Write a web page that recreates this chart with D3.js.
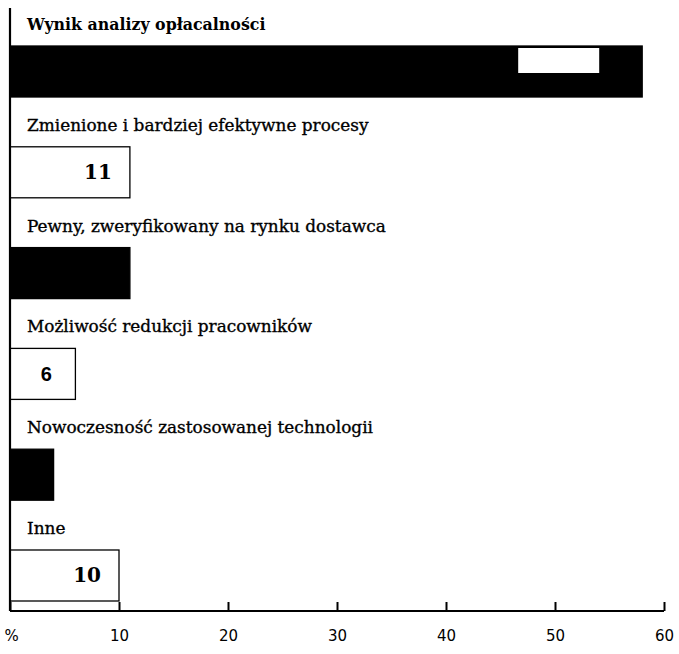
<!DOCTYPE html>
<html>
<head>
<meta charset="utf-8">
<script src="https://cdn.jsdelivr.net/npm/d3@7"></script>
<style>
  html, body { margin: 0; padding: 0; background: #fff; }
  svg { display: block; }
</style>
</head>
<body>
<svg id="chart" width="679" height="654"></svg>
<script>
// Reasons given for the investment decision, share of answers in %
const categories = [
  "Wynik analizy opłacalności",
  "Zmienione i bardziej efektywne procesy",
  "Pewny, zweryfikowany na rynku dostawca",
  "Możliwość redukcji pracowników",
  "Nowoczesność zastosowanej technologii",
  "Inne"
];
const values = [58, 11, 11, 6, 4, 10];
const fills = ["black", "white", "black", "white", "black", "white"];
const tickValues = [0, 10, 20, 30, 40, 50, 60];
const tickLabels = ["%", "10", "20", "30", "40", "50", "60"];

const svg = d3.select("#chart");
const serif = "'DejaVu Serif', 'Liberation Serif', serif";

const x = d3.scaleLinear().domain([0, 60]).range([10, 664]);
const y = d3.scaleBand().domain(categories).range([46, 601]).paddingInner(0.494).paddingOuter(0);
const baseY = 611;

const rows = categories.map((c, i) => ({ cat: c, value: values[i], fill: fills[i] }));

// bars
svg.append("g").selectAll("rect").data(rows).join("rect")
  .attr("x", x(0))
  .attr("y", d => y(d.cat))
  .attr("width", d => x(d.value) - x(0))
  .attr("height", y.bandwidth())
  .attr("fill", d => d.fill)
  .attr("stroke", "#000")
  .attr("stroke-width", 1.3);

// empty label box inside the long dark bar
const firstRow = rows[0];
svg.append("rect")
  .attr("x", x(firstRow.value) - 124)
  .attr("y", y(firstRow.cat) + 2)
  .attr("width", 81)
  .attr("height", 25)
  .attr("fill", "#fff");

// category captions (the leading one in bold)
svg.append("g").selectAll("text").data(rows).join("text")
  .attr("x", 27)
  .attr("y", d => y(d.cat) - 16)
  .attr("font-family", serif)
  .attr("font-size", (d, i) => i === 0 ? 15.8 : 16.9)
  .attr("font-weight", (d, i) => i === 0 ? "bold" : "normal")
  .attr("fill", "#000")
  .attr("stroke", (d, i) => i === 0 ? "none" : "#000")
  .attr("stroke-width", 0.35)
  .text(d => d.cat);

// value labels in the light bars
const labelled = rows.filter(d => d.fill === "white");
svg.append("g").selectAll("text").data(labelled).join("text")
  .attr("x", d => d.value >= 10 ? x(d.value) - 18 : x(d.value) - 29)
  .attr("y", d => y(d.cat) + y.bandwidth() / 2 + 7)
  .attr("text-anchor", d => d.value >= 10 ? "end" : "middle")
  .attr("font-family", d => d.value >= 10 ? serif : "'Liberation Sans', Arial, sans-serif")
  .attr("font-size", 20)
  .attr("font-weight", "bold")
  .text(d => d.value);

// axes
const axis = d3.axisBottom(x)
  .tickValues(tickValues)
  .tickSize(-9)
  .tickPadding(19)
  .tickFormat((d, i) => tickLabels[i]);

const gx = svg.append("g").attr("transform", `translate(0,${baseY})`).call(axis);
gx.select(".domain").attr("stroke-width", 2.2).attr("d", `M${x(0)},0H${x(60)}`);
gx.selectAll(".tick line").attr("stroke-width", 2);
gx.selectAll(".tick text")
  .attr("font-family", "'DejaVu Sans', sans-serif")
  .attr("font-size", 15)
  .attr("fill", "#000");
gx.selectAll(".tick").filter(d => d === 0).select("text").attr("dx", 1);

svg.append("line")
  .attr("x1", x(0)).attr("x2", x(0))
  .attr("y1", 8).attr("y2", baseY)
  .attr("stroke", "#000")
  .attr("stroke-width", 2.2);
</script>
</body>
</html>
